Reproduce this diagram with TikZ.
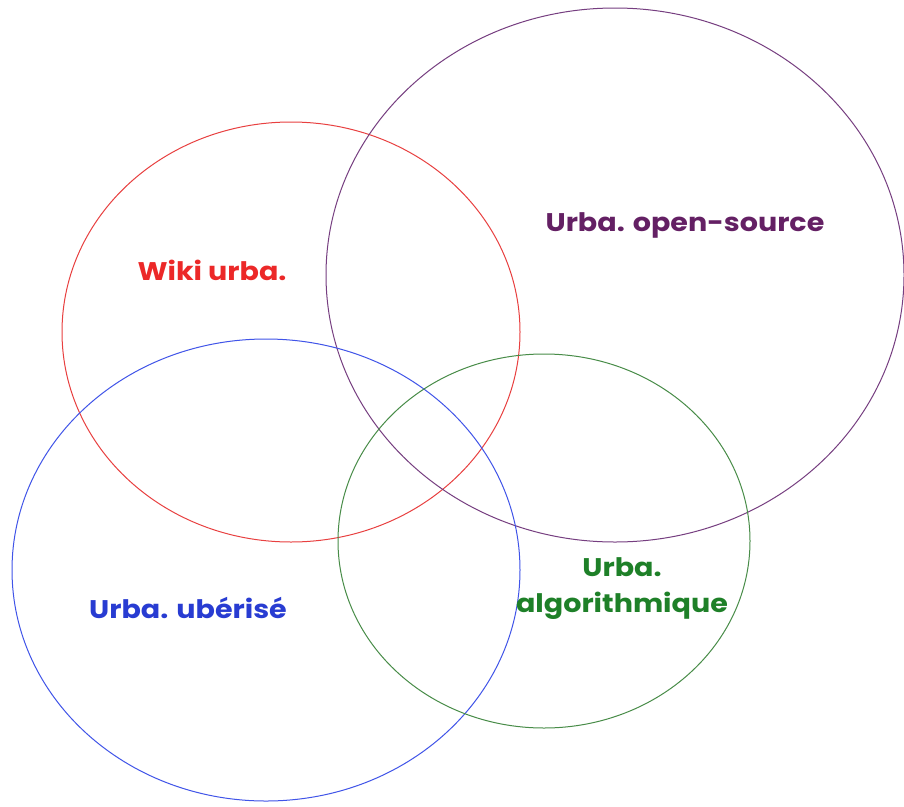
\documentclass[tikz,border=0pt]{standalone}
\usepackage{fontspec}
\setmainfont{Poppins}[FakeStretch=1.12]
\definecolor{cred}{RGB}{232,64,64}
\definecolor{cpurple}{RGB}{118,62,128}
\definecolor{cblue}{RGB}{64,84,232}
\definecolor{cgreen}{RGB}{72,140,72}
\definecolor{tred}{RGB}{236,40,40}
\definecolor{tpurple}{RGB}{100,32,100}
\definecolor{tblue}{RGB}{40,60,210}
\definecolor{tgreen}{RGB}{30,128,40}
\begin{document}
\begin{tikzpicture}[x=1pt,y=-1pt,
  ring/.style={line width=1pt},
  lbl/.style={font=\fontsize{25.5}{36}\selectfont\bfseries, align=center, inner sep=0pt}]
\useasboundingbox (0,0) rectangle (904,806);
\fill[white] (0,0) rectangle (904,806);
\draw[ring, cred] (291,332) ellipse [x radius=229, y radius=210];
\draw[ring, cpurple] (615,275) ellipse [x radius=289, y radius=267];
\draw[ring, cblue] (266,570) ellipse [x radius=254, y radius=231];
\draw[ring, cgreen] (544,541) ellipse [x radius=206, y radius=187];
\node[lbl, text=tred] (wiki) at (212,270) {Wiki urba.};
\node[lbl, text=tpurple] (open) at (685,225) {Urba. open-source};
\node[lbl, text=tblue] (uber) at (188,608) {Urba. ubérisé};
\node[lbl, text=tgreen] (algo) at (622,589) {Urba.\\algorithmique};
\end{tikzpicture}
\end{document}
